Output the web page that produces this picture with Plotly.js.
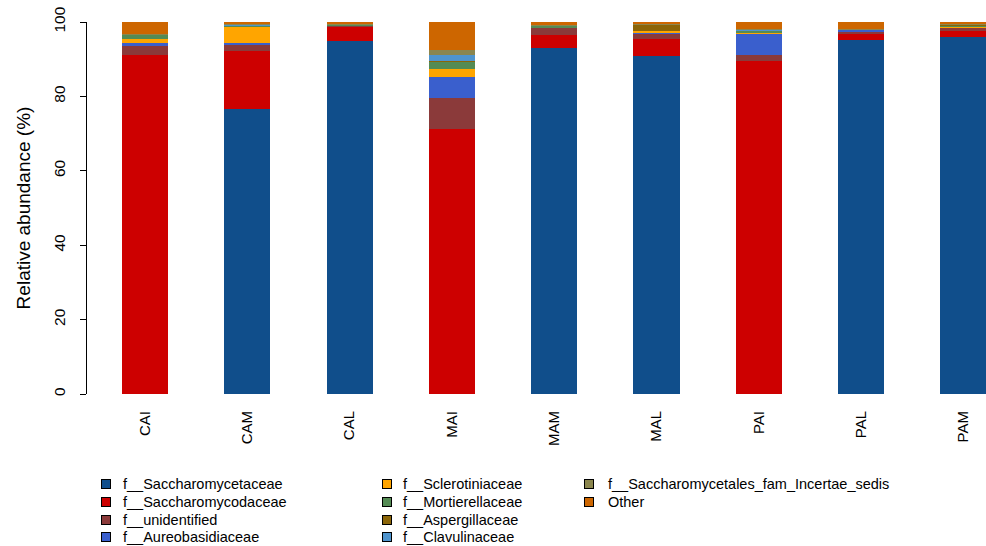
<!DOCTYPE html>
<html>
<head>
<meta charset="utf-8">
<script src="https://cdn.plot.ly/plotly-3.0.1.min.js"></script>
<style>html,body{margin:0;padding:0;background:#fff;}#chart{width:986px;height:546px;}</style>
</head>
<body>
<div id="chart"></div>
<script>
const samples = ["CAI", "CAM", "CAL", "MAI", "MAM", "MAL", "PAI", "PAL", "PAM"];

const families = [
  "f__Saccharomycetaceae",
  "f__Saccharomycodaceae",
  "f__unidentified",
  "f__Aureobasidiaceae",
  "f__Sclerotiniaceae",
  "f__Mortierellaceae",
  "f__Aspergillaceae",
  "f__Clavulinaceae",
  "f__Saccharomycetales_fam_Incertae_sedis",
  "Other"
];

const saccharomycetaceae = [0, 76.6, 95.0, 0, 93.0, 90.8, 0, 95.1, 96.0];
const saccharomycodaceae = [91.2, 15.5, 3.7, 71.2, 3.6, 4.5, 89.4, 1.8, 1.6];
const unidentified       = [2.6, 1.8, 0.35, 8.4, 1.9, 1.7, 1.6, 0.6, 0.9];
const aureobasidiaceae   = [0.5, 0.35, 0.05, 5.55, 0.1, 0.05, 6.0, 0.35, 0.05];
const sclerotiniaceae    = [1.1, 4.5, 0.05, 2.35, 0.05, 0.55, 0.1, 0.05, 0.3];
const mortierellaceae    = [1.2, 0.3, 0.1, 1.8, 0.3, 0.1, 0.5, 0.1, 0.1];
const aspergillaceae     = [0.05, 0.1, 0.1, 0.35, 0.1, 1.6, 0.05, 0.05, 0.3];
const clavulinaceae      = [0.05, 0.05, 0.05, 1.6, 0.05, 0.05, 0.3, 0.05, 0.05];
const incertaeSedis      = [0.05, 0.3, 0.2, 1.35, 0.2, 0.1, 0.2, 0.05, 0.1];
const other              = [3.25, 0.5, 0.4, 7.4, 0.7, 0.55, 1.85, 1.85, 0.6];

const seriesValues = [saccharomycetaceae, saccharomycodaceae, unidentified, aureobasidiaceae,
  sclerotiniaceae, mortierellaceae, aspergillaceae, clavulinaceae, incertaeSedis, other];

const colors = ["#104E8B", "#CD0000", "#8B3A3A", "#3A5FCD", "#FFA500",
  "#548B54", "#8B6508", "#4F94CD", "#8B864E", "#CD6600"];

const FONT = "Liberation Sans, Arial, Helvetica, sans-serif";

// plot area geometry (pixels)
const W = 986, H = 546;
const M = { l: 87, r: 0, t: 22, b: 152 };
const plotW = W - M.l - M.r, plotH = H - M.t - M.b;
const px2paperX = px => (px - M.l) / plotW;
const px2paperY = py => (H - M.b - py) / plotH;

// legend layout: column-major, 4 rows per column
const legendRows = 4;
const legendSwatchX = [106, 386.5, 589];
const legendTextX = [122, 402, 607];
const legendRow0 = 484.5, legendRowGap = 17.6;

const traces = families.map((name, i) => ({
  type: "bar",
  name: name,
  x: samples,
  y: seriesValues[i],
  width: 0.45,
  marker: { color: colors[i], line: { width: 0 } },
  showlegend: false,
  hoverinfo: "x+y+name"
}));

const annotations = [];
families.forEach((name, i) => {
  const col = Math.floor(i / legendRows), row = i % legendRows;
  const py = legendRow0 + row * legendRowGap;
  annotations.push({
    xref: "paper", yref: "paper",
    x: px2paperX(legendSwatchX[col]), y: px2paperY(py),
    xanchor: "center", yanchor: "middle",
    text: "\u00a0", showarrow: false,
    width: 8, height: 8, borderpad: 0,
    bgcolor: colors[i], bordercolor: "#000", borderwidth: 1,
    font: { size: 4 }
  });
  annotations.push({
    xref: "paper", yref: "paper",
    x: px2paperX(legendTextX[col]), y: px2paperY(py),
    xanchor: "left", yanchor: "middle",
    text: name, showarrow: false, borderpad: 0,
    font: { family: FONT, size: 14.5, color: "#000" }
  });
});

const layout = {
  width: W,
  height: H,
  margin: { l: M.l, r: M.r, t: M.t, b: M.b, autoexpand: false },
  paper_bgcolor: "#fff",
  plot_bgcolor: "#fff",
  barmode: "stack",
  bargap: 0,
  showlegend: false,
  font: { family: FONT, color: "#000" },
  xaxis: {
    type: "category",
    categoryorder: "array",
    categoryarray: samples,
    range: [-0.567, 8.221],
    showline: false,
    showgrid: false,
    zeroline: false,
    ticks: "",
    tickangle: -90,
    ticklabelstandoff: 13,
    tickfont: { family: FONT, size: 15, color: "#000" }
  },
  yaxis: {
    range: [0, 100],
    tickvals: [0, 20, 40, 60, 80, 100],
    ticktext: ["0", "20", "40", "60", "80", "100"],
    showline: true,
    linecolor: "#000",
    linewidth: 1,
    ticks: "outside",
    ticklen: 6,
    tickcolor: "#000",
    tickwidth: 1,
    tickangle: -90,
    ticklabelstandoff: 9,
    showgrid: false,
    zeroline: false,
    tickfont: { family: FONT, size: 15.5, color: "#000" },
    title: { text: "Relative abundance (%)", font: { family: FONT, size: 19, color: "#000" }, standoff: 15 }
  },
  annotations: annotations
};

Plotly.newPlot("chart", traces, layout, { displayModeBar: false, responsive: false });
</script>
</body>
</html>
